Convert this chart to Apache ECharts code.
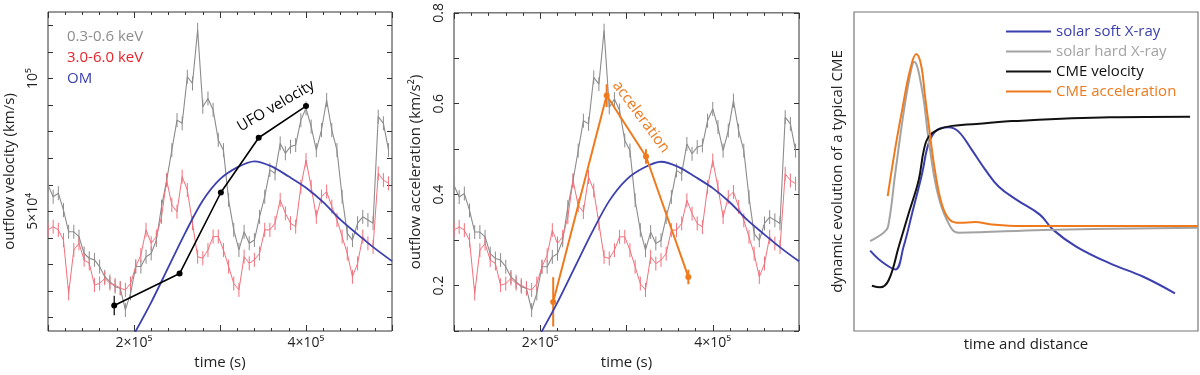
<!DOCTYPE html>
<html>
<head>
<meta charset="utf-8">
<title>UFO outflow vs CME</title>
<script src="https://cdn.jsdelivr.net/npm/echarts@6/dist/echarts.min.js"></script>
<style>
html, body { margin: 0; padding: 0; background: #fff; }
#main { width: 1200px; height: 375px; }
</style>
</head>
<body>
<div id="main"></div>
<script>
// light curve bins (s), shared by both X-ray bands
var times = [100000, 106000, 112000, 118000, 124000, 130000, 136000, 142000, 148000, 154000,
	160000, 166000, 172000, 178000, 184000, 190000, 196000, 202000, 208000, 214000,
	220000, 226000, 232000, 238000, 244000, 250000, 256000, 262000, 268000, 274000,
	280000, 286000, 292000, 298000, 304000, 310000, 316000, 322000, 328000, 334000,
	340000, 346000, 352000, 358000, 364000, 370000, 376000, 382000, 388000, 394000,
	400000, 406000, 412000, 418000, 424000, 430000, 436000, 442000, 448000, 454000,
	460000, 466000, 472000, 478000, 484000, 490000, 496000];
// count rates in arbitrary units (0 = bottom of frame, 100 = top)
var softRate = [45.8, 42.1, 43.2, 37.9, 31.1, 31.1, 29.6, 24.3, 22.8, 22.3,
	20.2, 17.0, 15.5, 13.9, 13.4, 6.6, 11.8, 20.2, 20.2, 23.3,
	24.3, 28.5, 39.0, 47.3, 56.7, 66.1, 65.1, 79.7, 77.6, 94.4,
	70.3, 72.9, 69.3, 59.9, 56.7, 41.1, 31.7, 25.4, 31.1, 27.5,
	28.5, 35.8, 42.1, 50.5, 49.4, 58.8, 55.7, 57.8, 58.3, 66.1,
	69.8, 64.1, 56.7, 63.0, 72.4, 63.0, 56.7, 42.1, 30.6, 28.5,
	33.8, 35.8, 34.8, 33.8, 67.2, 65.1, 56.7];
var hardRate = [31.7, 32.7, 31.7, 28.5, 11.8, 25.4, 27.5, 22.3, 21.2, 14.4,
	14.9, 16.5, 14.9, 14.4, 13.4, 12.9, 14.9, 20.2, 23.8, 31.7,
	27.5, 29.6, 35.8, 47.3, 39.5, 37.4, 48.4, 44.2, 33.8, 23.3,
	22.8, 25.4, 29.6, 29.6, 25.4, 20.2, 14.9, 12.9, 23.3, 21.2,
	22.3, 24.3, 31.7, 31.7, 33.8, 41.1, 36.9, 33.8, 32.7, 45.2,
	53.6, 45.2, 35.8, 42.1, 43.7, 39.0, 34.8, 29.6, 24.3, 17.0,
	21.2, 29.6, 27.5, 26.4, 49.4, 47.3, 46.3];
var rateErr = 2.2;
var omTime = [200000, 220000, 240000, 260000, 280000, 300000, 320000, 340000,
	360000, 380000, 400000, 420000, 440000, 460000, 480000, 500000];
var omRate = [-1.0, 9.0, 20.0, 31.0, 40.9, 47.6, 51.3, 53.2,
	51.6, 48.4, 44.9, 40.4, 34.9, 30.3, 25.9, 21.9];

// UFO velocity (km/s)
var ufoTime = [177000, 253000, 301000, 345000, 400000];
var ufoVel = [14600, 26600, 57100, 77700, 89600];
var ufoErr = [3700, 0, 0, 0, 0];
// UFO acceleration (km/s^2)
var accTime = [215000, 277000, 322600, 371700];
var accVal = [0.164, 0.618, 0.484, 0.219];
var accErr = [0.054, 0.025, 0.016, 0.016];

var velTicks = [10000, 20000, 30000, 40000, 50000, 60000, 70000, 80000, 90000, 100000, 110000, 120000];
var velLabels = [50000, 100000];
var velText = { 50000: '5×10⁴', 100000: '10⁵' };
var timeText = { 200000: '2×10⁵', 400000: '4×10⁵' };
var accLabels = [0.2, 0.4, 0.6, 0.8];

// typical CME sketch, [time/distance, level] in arbitrary units
var cmeSoft = [[4.7, 25.2], [8.1, 21.7], [12.0, 19.3], [14.4, 26.4], [16.9, 36.9], [19.8, 49.4],
	[21.7, 58.8], [24.1, 63.0], [27.5, 63.9], [30.4, 62.5], [34.3, 56.7], [38.2, 50.5],
	[42.1, 45.2], [47.3, 41.1], [54.1, 36.4], [57.9, 31.7], [64.7, 26.4], [74.4, 21.2],
	[84.1, 17.0], [93.3, 11.8]];
var cmeHard = [[4.7, 28.2], [8.6, 30.8], [9.9, 32.7], [12.0, 49.5], [14.4, 68.3], [16.4, 80.8],
	[17.5, 84.4], [19.8, 75.5], [21.7, 59.9], [24.1, 44.2], [27.0, 34.8], [30.4, 30.8],
	[55.0, 31.7], [100, 32.4]];
var cmeVel = [[5.2, 14.2], [7.6, 13.7], [10.1, 16.0], [13.0, 26.4], [15.9, 36.9], [18.8, 47.3],
	[20.3, 56.7], [21.7, 60.9], [24.6, 63.2], [28.5, 64.3], [38.2, 65.1], [45.9, 65.8],
	[74.4, 67.0], [97.7, 67.2]];
var cmeAcc = [[9.8, 42.3], [11.9, 56.7], [14.0, 69.3], [16.3, 81.8], [18.1, 86.8], [19.5, 83.4],
	[20.6, 74.0], [21.8, 64.0], [23.5, 50.5], [25.6, 39.5], [27.9, 34.8], [30.8, 33.9],
	[35.2, 34.2], [39.5, 33.5], [48.3, 32.9], [71.5, 32.9], [100, 32.9]];

var FONT = '"Open Sans", "DejaVu Sans", sans-serif';
var GRAY = '#8c8c8c', RED = '#f2707c', BLUE = '#3b40ae', ORANGE = '#ef7a1e';

var chart = echarts.init(document.getElementById('main'));

function zip(xs, ys) {
	var out = [];
	for (var i = 0; i < xs.length; i++) out.push([xs[i], ys[i]]);
	return out;
}
function zipErr(xs, ys, es) {
	var out = [];
	for (var i = 0; i < xs.length; i++) out.push([xs[i], ys[i], typeof es === 'number' ? es : es[i]]);
	return out;
}
/* vertical error bars */
function errSeries(xi, yi, data, color, width) {
	return {
		type: 'custom', xAxisIndex: xi, yAxisIndex: yi, data: data, clip: true,
		encode: { x: 0, y: 1 },
		itemStyle: { color: color },
		renderItem: function(params, api) {
			var x = api.value(0), y = api.value(1), e = api.value(2);
			if (!e) return { type: 'group', children: [] };
			var p1 = api.coord([x, y - e]);
			var p2 = api.coord([x, y + e]);
			return {
				type: 'line',
				shape: { x1: p1[0], y1: p1[1], x2: p2[0], y2: p2[1] },
				style: { stroke: color, lineWidth: width }
			};
		}
	};
}
function lineSeries(xi, yi, data, color, width, smooth) {
	return {
		type: 'line', xAxisIndex: xi, yAxisIndex: yi, data: data, symbol: 'none',
		smooth: smooth || false, clip: true,
		lineStyle: { color: color, width: width }, itemStyle: { color: color }
	};
}
/* the three light curves, same in both panels */
function lightCurves(xi, yi) {
	return [
		lineSeries(xi, yi, zip(times, softRate), GRAY, 1.1),
		errSeries(xi, yi, zipErr(times, softRate, rateErr), GRAY, 1),
		lineSeries(xi, yi, zip(times, hardRate), RED, 1),
		errSeries(xi, yi, zipErr(times, hardRate, rateErr), RED, 1),
		lineSeries(xi, yi, zip(omTime, omRate), BLUE, 1.8, 0.3)
	];
}
function timeAxis(grid, pos, labels) {
	return {
		type: 'value', gridIndex: grid, position: pos, min: 100000, max: 500000, interval: 100000,
		axisLine: { show: false },
		axisTick: { show: true, inside: true, length: 6, lineStyle: { color: '#333' } },
		minorTick: { show: true, splitNumber: 5, length: 3, lineStyle: { color: '#333' } },
		splitLine: { show: false },
		axisLabel: {
			show: labels, margin: 5, fontSize: 14, color: '#222', fontFamily: FONT,
			formatter: function(v) { return timeText[v] || ''; }
		},
		name: labels ? 'time (s)' : '', nameLocation: 'middle', nameGap: 24,
		nameTextStyle: { fontSize: 15, color: '#222', fontFamily: FONT }
	};
}
function hiddenAxis(grid) {
	return { type: 'value', gridIndex: grid, min: 0, max: 100, show: false };
}
function velAxis(pos, labels) {
	return {
		type: 'value', gridIndex: 0, position: pos, min: 5000, max: 125000,
		axisLine: { show: false }, splitLine: { show: false },
		axisTick: { show: true, inside: true, length: 5, customValues: velTicks, lineStyle: { color: '#333' } },
		axisLabel: {
			show: labels, rotate: 90, margin: 8, fontSize: 14, color: '#222', fontFamily: FONT,
			customValues: velLabels,
			formatter: function(v) { return velText[v] || ''; }
		},
		name: labels ? 'outflow velocity (km/s)' : '', nameLocation: 'middle', nameGap: 31,
		nameTextStyle: { fontSize: 15, color: '#222', fontFamily: FONT }
	};
}
function accAxis(pos, labels) {
	return {
		type: 'value', gridIndex: 1, position: pos, min: 0.1, max: 0.8, interval: 0.1,
		axisLine: { show: false }, splitLine: { show: false },
		axisTick: { show: true, inside: true, length: 5, lineStyle: { color: '#333' } },
		axisLabel: {
			show: labels, rotate: 90, margin: 8, fontSize: 14, color: '#222', fontFamily: FONT,
			formatter: function(v) {
				for (var i = 0; i < accLabels.length; i++) {
					if (Math.abs(accLabels[i] - v) < 1e-6) return accLabels[i].toFixed(1);
				}
				return '';
			}
		},
		name: labels ? 'outflow acceleration (km/s²)' : '', nameLocation: 'middle', nameGap: 31,
		nameTextStyle: { fontSize: 15, color: '#222', fontFamily: FONT }
	};
}
function label(text, x, y, color, rot) {
	return {
		type: 'text', x: x, y: y, rotation: rot || 0, z: 100,
		style: { text: text, fill: color, fontSize: 15, fontFamily: FONT, align: rot ? 'center' : 'left', verticalAlign: 'middle' }
	};
}

var series = [];
series = series.concat(lightCurves(0, 2));
series.push({
	type: 'line', xAxisIndex: 0, yAxisIndex: 0, data: zip(ufoTime, ufoVel),
	symbol: 'circle', symbolSize: 6, lineStyle: { color: '#000', width: 1.6 }, itemStyle: { color: '#000' }, z: 5
});
series.push(errSeries(0, 0, zipErr(ufoTime, ufoVel, ufoErr), '#000', 1.2));
series = series.concat(lightCurves(2, 5));
series.push({
	type: 'line', xAxisIndex: 2, yAxisIndex: 3, data: zip(accTime, accVal),
	symbol: 'circle', symbolSize: 6, lineStyle: { color: ORANGE, width: 2 }, itemStyle: { color: ORANGE }, z: 5
});
series.push(errSeries(2, 3, zipErr(accTime, accVal, accErr), ORANGE, 2));

var cmeNames = ['solar soft X-ray', 'solar hard X-ray', 'CME velocity', 'CME acceleration'];
var cmeColors = [BLUE, '#a3a3a3', '#111', ORANGE];
var cmeData = [cmeSoft, cmeHard, cmeVel, cmeAcc];
for (var k = 0; k < cmeData.length; k++) {
	var s = lineSeries(4, 6, cmeData[k], cmeColors[k], 2, 0.4);
	s.name = cmeNames[k];
	series.push(s);
}

option = {
	animation: false,
	backgroundColor: '#fff',
	textStyle: { fontFamily: FONT },
	grid: [
		{ left: 48, top: 12, width: 344, height: 319, show: true, borderColor: '#333', borderWidth: 1 },
		{ left: 454, top: 12, width: 345, height: 319, show: true, borderColor: '#333', borderWidth: 1 },
		{ left: 854, top: 12, width: 344, height: 319, show: true, borderColor: '#777', borderWidth: 1.2 }
	],
	xAxis: [
		timeAxis(0, 'bottom', true),
		timeAxis(0, 'top', false),
		timeAxis(1, 'bottom', true),
		timeAxis(1, 'top', false),
		{
			type: 'value', gridIndex: 2, min: 0, max: 100,
			axisLine: { show: false }, axisTick: { show: false }, axisLabel: { show: false }, splitLine: { show: false },
			name: 'time and distance', nameLocation: 'middle', nameGap: 6,
			nameTextStyle: { fontSize: 15, color: '#222', fontFamily: FONT }
		}
	],
	yAxis: [
		velAxis('left', true),
		velAxis('right', false),
		hiddenAxis(0),
		accAxis('left', true),
		accAxis('right', false),
		hiddenAxis(1),
		{
			type: 'value', gridIndex: 2, min: 0, max: 100,
			axisLine: { show: false }, axisTick: { show: false }, axisLabel: { show: false }, splitLine: { show: false },
			name: 'dynamic evolution of a typical CME', nameLocation: 'middle', nameGap: 9,
			nameTextStyle: { fontSize: 15, color: '#222', fontFamily: FONT }
		}
	],
	legend: {
		orient: 'vertical', left: 1006, top: 24, padding: 0, icon: 'rect', itemWidth: 45, itemHeight: 2, itemGap: 5,
		textStyle: { fontSize: 15, lineHeight: 15, fontFamily: FONT },
		data: cmeNames.map(function(n, i) { return { name: n, textStyle: { color: cmeColors[i] } }; })
	},
	graphic: [
		label('0.3-0.6 keV', 67, 37, GRAY),
		label('3.0-6.0 keV', 67, 58, '#e8232b'),
		label('OM', 67, 79, BLUE),
		label('UFO velocity', 276, 106, '#000', 30.4 * Math.PI / 180),
		label('acceleration', 641, 117, ORANGE, -53.5 * Math.PI / 180)
	],
	series: series
};
chart.setOption(option);
</script>
</body>
</html>
